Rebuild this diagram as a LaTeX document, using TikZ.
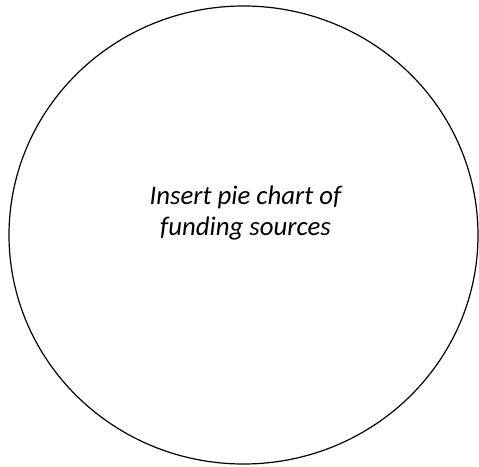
\documentclass[tikz,border=0pt]{standalone}
\usepackage{fontspec}
\setmainfont{Carlito}
\begin{document}
\begin{tikzpicture}[x = 1pt, y = 1pt, outline/.style = {line width = 1.2pt}]
	\useasboundingbox (0, 0) rectangle (479, 466);

	\draw [outline] (243.5, 231) ellipse [x radius = 234.5, y radius = 229];
	\node [align = center, inner sep = 0, font = \fontsize{26.8}{31}\selectfont\itshape] (caption) at (245.5, 253) {Insert pie chart of\\funding sources};
\end{tikzpicture}
\end{document}
